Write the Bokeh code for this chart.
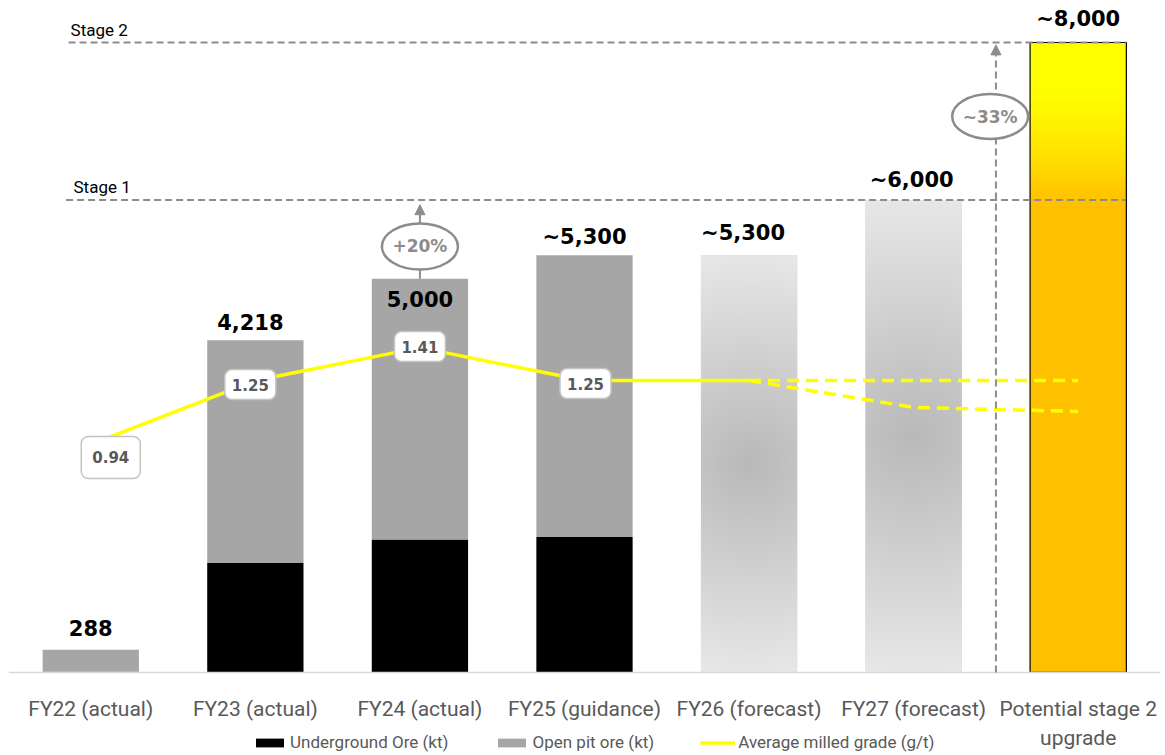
import numpy as np
from bokeh.plotting import figure
from bokeh.models import (FactorRange, Range1d, Label, Arrow, NormalHead, Legend,
                          LegendItem, ColumnDataSource)
from bokeh.core.properties import value
from bokeh.embed import file_html
from bokeh.resources import INLINE

# ---------------- data ----------------
categories = ["FY22 (actual)", "FY23 (actual)", "FY24 (actual)", "FY25 (guidance)",
              "FY26 (forecast)", "FY27 (forecast)", "Potential stage 2\nupgrade"]
actual_cats = categories[:4]
underground = [8, 1390, 1690, 1720]          # kt
open_pit = [280, 2828, 3310, 3580]           # kt
forecast_cats = categories[4:6]
forecast_totals = [5300, 6000]
stage2_cat = categories[6]
stage1_value = 6000
stage2_value = 8000
totals = [288, 4218, 5000, 5300, 5300, 6000, 8000]
total_labels = ["288", "4,218", "5,000", "~5,300", "~5,300", "~6,000", "~8,000"]
grade_cats = categories[:5]
grade = [0.94, 1.25, 1.41, 1.25, 1.25]
grade_labels = ["0.94", "1.25", "1.41", "1.25"]
proj_cats = categories[4:]
grade_high = [1.25, 1.25, 1.25]
grade_low = [1.25, 1.12, 1.10]
uplift_labels = ["+20%", "~33%"]

# ---------------- styling ----------------
BAR_W = 0.585
GRAY = "#a6a6a6"
ANN = "#8c8c8c"
TXT = "#595959"
YEL = "#ffff00"
FONT = "DejaVu Sans"

p = figure(x_range=FactorRange(*categories), y_range=Range1d(-1029, 8432),
           width=1160, height=753, output_backend="svg", toolbar_location=None,
           y_axis_location=None, min_border_left=8, min_border_right=0,
           min_border_top=8, min_border_bottom=0)
p.extra_y_ranges = {"grade": Range1d(-0.560, 3.056)}
p.outline_line_color = None
p.xgrid.visible = False
p.ygrid.visible = False
p.background_fill_color = "white"
p.border_fill_color = "white"

ax = p.xaxis[0]
ax.fixed_location = 0
ax.axis_line_color = "#d9d9d9"
ax.axis_line_width = 1.5
ax.major_tick_line_color = None
ax.minor_tick_line_color = None
ax.major_label_text_font = "Roboto"
ax.major_label_text_font_size = "21px"
ax.major_label_text_color = TXT
ax.major_label_standoff = 19

# actual stacked bars
src = ColumnDataSource(dict(cat=actual_cats, underground=underground, open_pit=open_pit))
stack = p.vbar_stack(["underground", "open_pit"], x="cat", width=BAR_W,
                     color=["black", GRAY], line_color=None, source=src)

# forecast bars with radial grey gradient
p.vbar(x=forecast_cats, top=forecast_totals, width=BAR_W, color="#cfcfcf", line_color=None)
k_px = 745 / 9461.0
for i, tot in zip([4, 5], forecast_totals):
    ny = int(round(tot * k_px))
    nx = 96
    jj, ii = np.mgrid[0:ny, 0:nx]
    d = np.sqrt((ii - nx / 2) ** 2 + (jj - ny * 0.5) ** 2)
    t = np.clip(d / (ny * 0.5), 0, 1)
    c = (0xb9 + (0xe7 - 0xb9) * t).astype(np.uint8)
    img = np.zeros((ny, nx, 4), dtype=np.uint8)
    img[..., 0] = c
    img[..., 1] = c
    img[..., 2] = c
    img[..., 3] = 255
    p.image_rgba(image=[img.view(np.uint32).reshape(ny, nx)], x=i + 0.5 - BAR_W / 2, y=0,
                 dw=BAR_W, dh=tot)

# stage 2 bar
p.vbar(x=[stage2_cat], top=[stage1_value], width=BAR_W, color="#ffc000", line_color=None)
ny = int(round((stage2_value - stage1_value) * k_px))
tt = (np.arange(ny) + 0.5) / ny
s = np.clip(tt / 0.75, 0, 1)
g = (194 + 61 * (1 - (1 - s) ** 1.5)).astype(np.uint8)
img = np.zeros((ny, 1, 4), dtype=np.uint8)
img[:, 0, 0] = 255
img[:, 0, 1] = g
img[:, 0, 2] = 0
img[:, 0, 3] = 255
p.image_rgba(image=[img.view(np.uint32).reshape(ny, 1)], x=6.5 - BAR_W / 2, y=stage1_value,
             dw=BAR_W, dh=stage2_value - stage1_value)
p.vbar(x=[stage2_cat], top=[stage2_value], width=BAR_W, fill_color=None,
       line_color="black", line_width=1.2)

# stage reference lines
p.segment(x0=[0.35, 0.365], y0=[stage1_value, stage2_value], x1=[6.79, 6.79],
          y1=[stage1_value, stage2_value], line_color=ANN, line_width=2, line_dash="7 4")
p.text(x=[0.395, 0.377], y=[stage1_value, stage2_value], text=["Stage 1", "Stage 2"],
       text_font=value("Roboto"), text_font_size="17px", text_color="black",
       text_baseline="bottom", y_offset=-3)

# uplift arrows
p.add_layout(Arrow(end=NormalHead(size=10, fill_color=ANN, line_color=ANN),
                   x_start=2.5, y_start=totals[2], x_end=2.5, y_end=stage1_value - 60,
                   line_color=ANN, line_width=2))
p.add_layout(Arrow(end=NormalHead(size=10, fill_color=ANN, line_color=ANN),
                   x_start=6.0, y_start=0, x_end=6.0, y_end=stage2_value - 30,
                   line_color=ANN, line_width=2, line_dash="7 4"))
p.ellipse(x=[2.5, 5.965], y=[5410, 7060], width=76, height=[46, 45],
          width_units="screen", height_units="screen", fill_color="white",
          line_color=ANN, line_width=2.5, level="overlay")
p.text(x=[2.5, 5.965], y=[5410, 7060], text=uplift_labels, text_font=value(FONT),
       text_font_style="bold", text_font_size="17px", text_color=ANN,
       text_align="center", text_baseline="middle", level="overlay")

# grade line
grade_line = p.line(x=grade_cats, y=grade, y_range_name="grade", line_color=YEL, line_width=3.5)
p.line(x=proj_cats, y=grade_high, y_range_name="grade", line_color=YEL, line_width=3.5,
       line_dash="12 7")
p.line(x=proj_cats, y=grade_low, y_range_name="grade", line_color=YEL, line_width=3.5,
       line_dash="12 7")

offsets = [(20, -13, (11, 15)), (-5, -4, (7, 9)), (0, 1, (7, 9)), (1, -3, (7, 9))]
for i, (lbl, (dx, dy, pad)) in enumerate(zip(grade_labels, offsets)):
    p.add_layout(Label(x=i + 0.5, y=grade[i], y_range_name="grade", text=lbl,
                       x_offset=dx, y_offset=dy, text_align="center", text_baseline="middle",
                       text_font=FONT, text_font_style="bold", text_font_size="15px",
                       text_color=TXT, background_fill_color="white",
                       border_line_color="#c4c4c4", border_line_width=1.5,
                       padding=pad, border_radius=7))

# total labels
lsrc = ColumnDataSource(dict(x=categories, y=totals, t=total_labels,
                             dy=[-22, -18, 20, -18, -22, -20, -24],
                             dx=[0, -5, 0, 0, -6, -2, 0]))
p.text(x="x", y="y", text="t", x_offset="dx", y_offset="dy", source=lsrc,
       text_font=value(FONT), text_font_style="bold", text_font_size="21px",
       text_color="black", text_align="center", text_baseline="middle")

legend = Legend(items=[LegendItem(label="Underground Ore (kt)", renderers=[stack[0]]),
                       LegendItem(label="Open pit ore (kt)", renderers=[stack[1]]),
                       LegendItem(label="Average milled grade (g/t)", renderers=[grade_line])],
                location=(244, 1), orientation="horizontal", padding=0, margin=0,
                border_line_color=None, background_fill_alpha=0, glyph_width=35,
                glyph_height=11, spacing=46, label_standoff=3,
                label_text_font="Roboto", label_text_font_size="17px",
                label_text_color=TXT)
p.add_layout(legend, "center")

open("out.html", "w").write(file_html(p, INLINE))
